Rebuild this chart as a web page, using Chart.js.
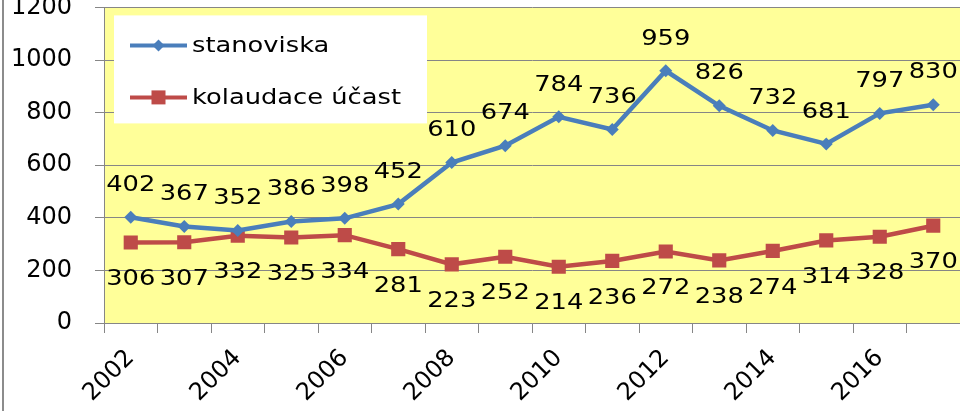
<!DOCTYPE html>
<html>
<head>
<meta charset="utf-8">
<script src="https://cdn.jsdelivr.net/npm/chart.js@4"></script>
<style>
  html, body { margin: 0; padding: 0; background: #fff; overflow: hidden; }
  #obal { position: relative; width: 960px; height: 411px; overflow: hidden; }
  #graf { position: absolute; left: 0; top: -30px; }
  #okraj { position: absolute; left: 2px; top: 0; width: 2px; height: 411px; background: #8c8c8c; }
</style>
</head>
<body>
<div id="obal">
  <canvas id="graf" width="970" height="441"></canvas>
  <div id="okraj"></div>
</div>
<script>
const roky = ['2002', '2003', '2004', '2005', '2006', '2007', '2008', '2009',
    '2010', '2011', '2012', '2013', '2014', '2015', '2016', '2017'];
const stanoviska = [402, 367, 352, 386, 398, 452, 610, 674, 784, 736, 959, 826, 732, 681, 797, 830];
const kolaudace = [306, 307, 332, 325, 334, 281, 223, 252, 214, 236, 272, 238, 274, 314, 328, 370];
const popiskyOsyY = [0, 200, 400, 600, 800, 1000, 1200];

const MODRA = '#4a7ebb';
const CERVENA = '#be4b48';
const SEDA = '#868686';
const PISMO = '"DejaVu Sans", Verdana, sans-serif';
const ROZTAH = 1.17; // texty v obrazku jsou trochu roztazene do sirky

// napis roztazeny do sirky
function napis(ctx, text, x, y, zarovnani) {
    ctx.save();
    ctx.translate(x, y);
    ctx.scale(ROZTAH, 1);
    ctx.textAlign = zarovnani;
    ctx.textBaseline = 'middle';
    ctx.fillText(text, 0, 0);
    ctx.restore();
}

// zluty podklad plochy grafu
const podklad = {
    id: 'podklad',
    beforeDraw(chart) {
        const { ctx, chartArea: a } = chart;
        ctx.save();
        ctx.fillStyle = '#ffff99';
        ctx.fillRect(a.left, a.top, a.right - a.left, a.bottom - a.top);
        ctx.restore();
    }
};

// hodnoty nad / pod body
const hodnoty = {
    id: 'hodnoty',
    afterDatasetsDraw(chart) {
        const ctx = chart.ctx;
        ctx.save();
        ctx.fillStyle = '#000';
        ctx.font = '22px ' + PISMO;
        chart.data.datasets.forEach((ds, i) => {
            const posun = i === 0 ? -32 : 37;
            chart.getDatasetMeta(i).data.forEach((bod, j) => {
                napis(ctx, String(ds.data[j]), bod.x, bod.y + posun, 'center');
            });
        });
        ctx.restore();
    }
};

// legenda uvnitr plochy grafu
const legenda = {
    id: 'legenda',
    afterDraw(chart) {
        const { ctx, chartArea: a } = chart;
        const x0 = a.left + 10, y0 = a.top + 8;
        ctx.save();
        ctx.fillStyle = '#fff';
        ctx.fillRect(x0, y0, 313, 108);
        ctx.font = '22px ' + PISMO;
        chart.data.datasets.forEach((ds, i) => {
            const y = y0 + 30 + i * 52;
            ctx.strokeStyle = ds.borderColor;
            ctx.lineWidth = 4;
            ctx.beginPath();
            ctx.moveTo(x0 + 16, y);
            ctx.lineTo(x0 + 73, y);
            ctx.stroke();
            ctx.fillStyle = ds.backgroundColor;
            const cx = x0 + 44.5;
            if (ds.pointStyle === 'rect') {
                ctx.fillRect(cx - 7, y - 7, 14, 14);
            } else {
                ctx.beginPath();
                ctx.moveTo(cx, y - 6);
                ctx.lineTo(cx + 6, y);
                ctx.lineTo(cx, y + 6);
                ctx.lineTo(cx - 6, y);
                ctx.closePath();
                ctx.fill();
            }
            ctx.fillStyle = '#000';
            napis(ctx, ds.label, x0 + 78, y + 1, 'left');
        });
        ctx.restore();
    }
};

new Chart(document.getElementById('graf'), {
    type: 'line',
    data: {
        labels: roky,
        datasets: [{
            label: 'stanoviska',
            data: stanoviska,
            borderColor: MODRA,
            backgroundColor: MODRA,
            borderWidth: 4.5,
            pointStyle: 'rectRot',
            pointRadius: 6.5,
            pointBorderWidth: 0,
            tension: 0
        }, {
            label: 'kolaudace účast',
            data: kolaudace,
            borderColor: CERVENA,
            backgroundColor: CERVENA,
            borderWidth: 4.5,
            pointStyle: 'rect',
            pointRadius: 10,
            pointBorderWidth: 0,
            tension: 0
        }]
    },
    options: {
        responsive: false,
        animation: false,
        layout: { padding: 0 },
        plugins: {
            legend: { display: false },
            tooltip: { enabled: false }
        },
        scales: {
            x: {
                offset: true,
                grid: {
                    offset: true,
                    drawOnChartArea: false,
                    color: SEDA,
                    tickLength: 10
                },
                border: { color: SEDA, width: 1 },
                ticks: {
                    autoSkip: false,
                    maxRotation: 45,
                    minRotation: 45,
                    padding: 11,
                    color: '#000',
                    font: { family: PISMO, size: 24 },
                    callback: (v, i) => i % 2 === 0 ? roky[i] : ''
                },
                afterFit: s => { s.height = 88; }
            },
            y: {
                min: 0,
                max: 1200,
                afterBuildTicks: s => { s.ticks = popiskyOsyY.map(v => ({ value: v })); },
                grid: { color: SEDA, tickLength: 9 },
                border: { color: SEDA, width: 1 },
                ticks: {
                    padding: 23,
                    color: '#000',
                    font: { family: PISMO, size: 24 },
                    callback: v => String(v)
                },
                afterFit: s => { s.width = 104; }
            }
        }
    },
    plugins: [podklad, hodnoty, legenda]
});
</script>
</body>
</html>
